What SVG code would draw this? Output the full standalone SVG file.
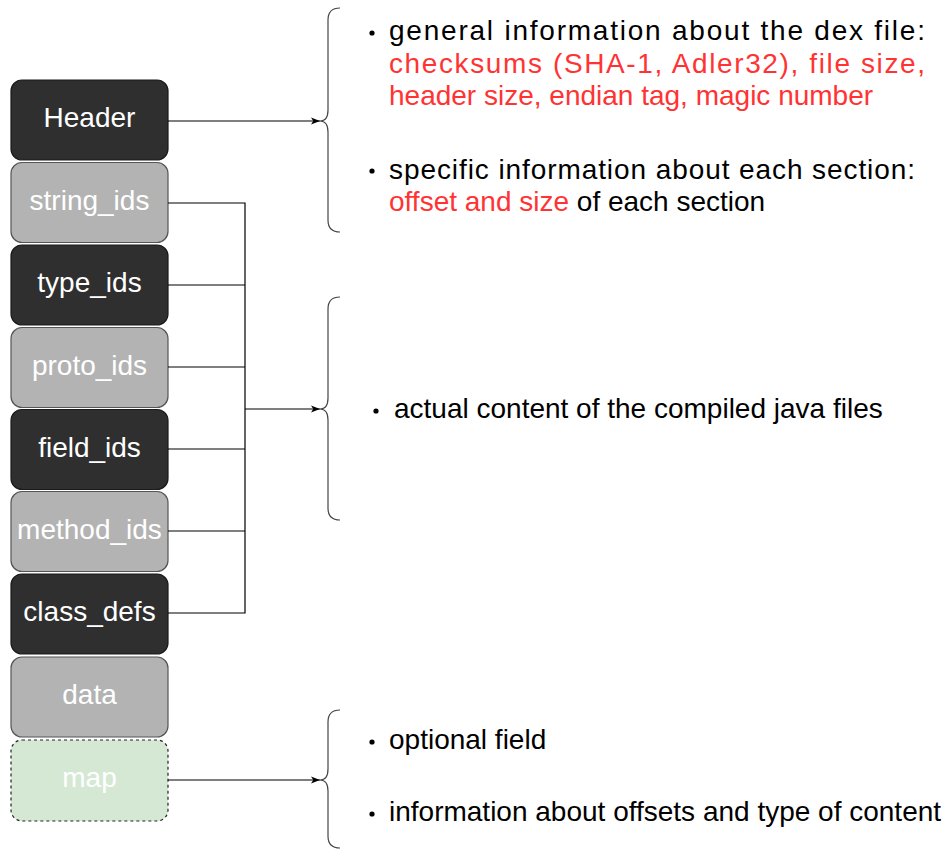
<svg xmlns="http://www.w3.org/2000/svg" width="951" height="850" viewBox="0 0 951 850">
<defs>
<marker id="arr" viewBox="0 0 10 10" refX="10" refY="5" markerWidth="9" markerHeight="9" markerUnits="userSpaceOnUse" orient="auto">
<path d="M0,1 L10,5 L0,9 L2.5,5 Z" fill="#000"/>
</marker>
<style>
.dark{fill:#2f2f2f;stroke:#1a1a1a;stroke-width:1.2}
.grey{fill:#b3b3b3;stroke:#555;stroke-width:1.2}
.map{fill:#d5e8d4;stroke:#222;stroke-width:1.2;stroke-dasharray:3 3}
.lbl{font-family:"Liberation Sans",Arial,sans-serif;font-size:28px;fill:#fff;text-anchor:middle}
.conn{fill:none;stroke:#000;stroke-width:1.2}
.brace{fill:none;stroke:#444;stroke-width:1.2}
.t{font-family:"Liberation Sans",Arial,sans-serif;font-size:28px;fill:#000}
.r{fill:#ff3333}
</style>
</defs>
<g id="header"><rect class="dark" x="11" y="80" width="157" height="80" rx="11"/><text class="lbl" x="89.5" y="127">Header</text></g>
<g id="string_ids"><rect class="grey" x="11" y="162.5" width="157" height="80" rx="11"/><text class="lbl" x="89.5" y="210">string_ids</text></g>
<g id="type_ids"><rect class="dark" x="11" y="245" width="157" height="80" rx="11"/><text class="lbl" x="89.5" y="292">type_ids</text></g>
<g id="proto_ids"><rect class="grey" x="11" y="327.5" width="157" height="80" rx="11"/><text class="lbl" x="89.5" y="375">proto_ids</text></g>
<g id="field_ids"><rect class="dark" x="11" y="409.5" width="157" height="80" rx="11"/><text class="lbl" x="89.5" y="457">field_ids</text></g>
<g id="method_ids"><rect class="grey" x="11" y="491.5" width="157" height="80" rx="11"/><text class="lbl" x="89.5" y="539">method_ids</text></g>
<g id="class_defs"><rect class="dark" x="11" y="574" width="157" height="80" rx="11"/><text class="lbl" x="89.5" y="621">class_defs</text></g>
<g id="data"><rect class="grey" x="11" y="657" width="157" height="80" rx="11"/><text class="lbl" x="89.5" y="704">data</text></g>
<g id="map"><rect class="map" x="11" y="740" width="157" height="81" rx="11"/><text class="lbl" x="89.5" y="787">map</text></g>
<g id="connectors">
<path class="conn" d="M168,121 H320" marker-end="url(#arr)"/>
<path class="conn" d="M168,203 H245 V613 H168 M168,285 H245 M168,367 H245 M168,449 H245 M168,531 H245"/>
<path class="conn" d="M245,409 H320" marker-end="url(#arr)"/>
<path class="conn" d="M168,780 H320" marker-end="url(#arr)"/>
</g>
<g id="braces">
<path class="brace" d="M340,8 Q328,8 328,20 V110 Q328,121 320,121 Q328,121 328,132 V220 Q328,232 340,232"/>
<path class="brace" d="M340,297 Q328,297 328,309 V398 Q328,409 320,409 Q328,409 328,420 V508 Q328,520 340,520"/>
<path class="brace" d="M340,710 Q328,710 328,722 V769 Q328,780 320,780 Q328,780 328,791 V836 Q328,848 340,848"/>
</g>
<g id="text-header">
<circle cx="372" cy="33" r="2.6"/>
<text class="t" x="389" y="40" textLength="536" lengthAdjust="spacing">general information about the dex file:</text>
<text class="t r" x="389" y="72.5" textLength="536" lengthAdjust="spacing">checksums (SHA-1, Adler32), file size,</text>
<text class="t r" x="389" y="105">header size, endian tag, magic number</text>
<circle cx="372" cy="171" r="2.6"/>
<text class="t" x="389" y="178.5" textLength="526" lengthAdjust="spacing">specific information about each section:</text>
<text class="t" x="389" y="211"><tspan class="r">offset and size</tspan> of each section</text>
</g>
<g id="text-middle">
<circle cx="376" cy="411" r="2.6"/>
<text class="t" x="394" y="418">actual content of the compiled java files</text>
</g>
<g id="text-map">
<circle cx="372" cy="742" r="2.6"/>
<text class="t" x="389" y="749">optional field</text>
<circle cx="372" cy="814" r="2.6"/>
<text class="t" x="389" y="821">information about offsets and type of content</text>
</g>
</svg>
